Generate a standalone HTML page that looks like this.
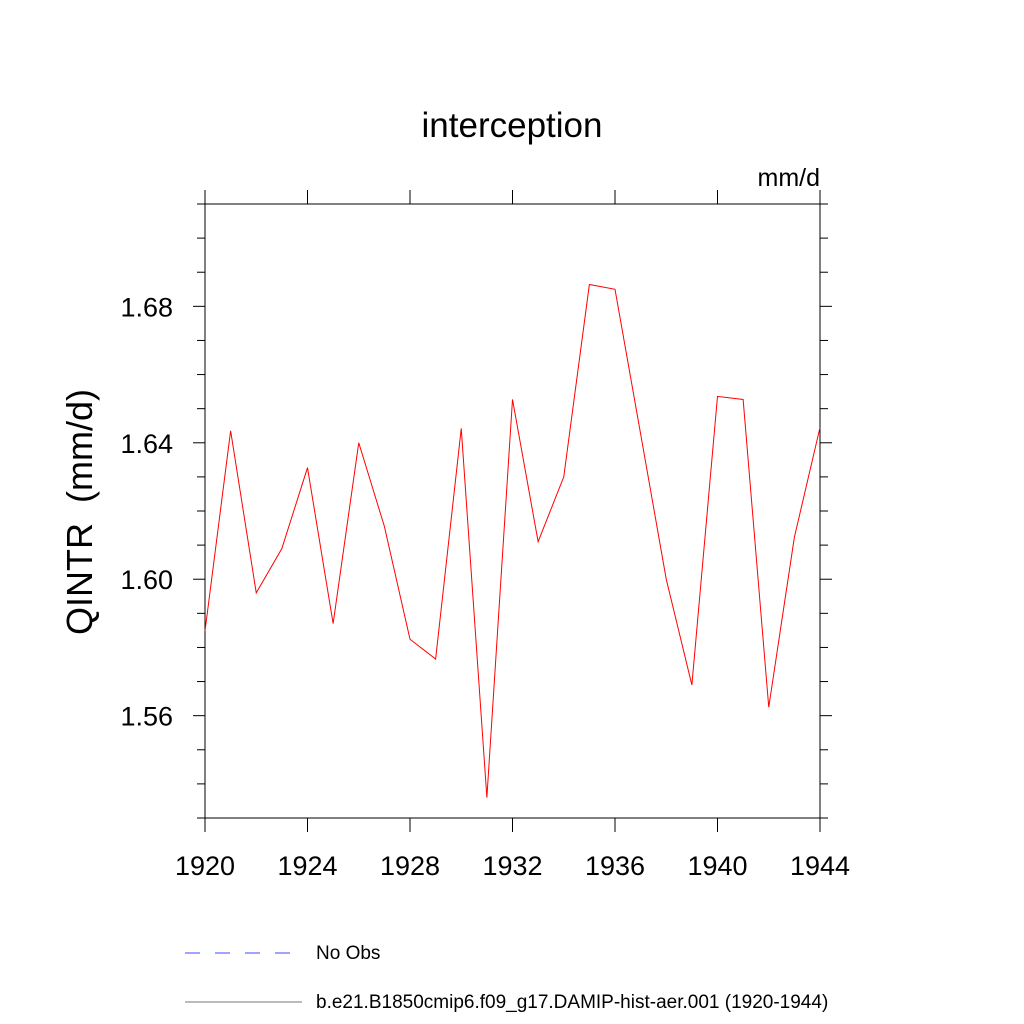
<!DOCTYPE html>
<html><head><meta charset="utf-8"><style>body{margin:0;background:#fff}svg{display:block}text{font-family:"Liberation Sans",sans-serif}</style></head>
<body>
<svg id="c" width="1024" height="1024">
<text x="512" y="137" font-size="35" text-anchor="middle">interception</text>
<text x="820" y="186" font-size="25" text-anchor="end">mm/d</text>
<text transform="translate(92,512) rotate(-90)" font-size="36" text-anchor="middle" xml:space="preserve">QINTR  (mm/d)</text>
<g id="axes"></g>
<polyline id="line" fill="none" stroke="#ff0000" stroke-width="1"/>
<line x1="185" y1="953" x2="295" y2="953" stroke="#4444ff" stroke-width="1" stroke-dasharray="15,15"/>
<text x="316" y="959" font-size="19">No Obs</text>
<line x1="185" y1="1002" x2="302" y2="1002" stroke="#777" stroke-width="1"/>
<text x="316" y="1008" font-size="19">b.e21.B1850cmip6.f09_g17.DAMIP-hist-aer.001 (1920-1944)</text>
</svg>
<script>
const years=[1920,1921,1922,1923,1924,1925,1926,1927,1928,1929,1930,1931,1932,1933,1934,1935,1936,1937,1938,1939,1940,1941,1942,1943,1944];
const values=[1.5848,1.6435,1.596,1.609,1.6327,1.587,1.640,1.6155,1.5824,1.5766,1.6442,1.536,1.6527,1.611,1.630,1.6864,1.685,1.6426,1.600,1.569,1.6536,1.6527,1.5625,1.6123,1.6445];
const xTicks=[1920,1924,1928,1932,1936,1940,1944];
const yTicks=[1.56,1.60,1.64,1.68];
const X0=205,X1=820,Y0=818,Y1=204,xmin=1920,xmax=1944,ymin=1.53,ymax=1.71;
const xs=v=>X0+(v-xmin)/(xmax-xmin)*(X1-X0);
const ys=v=>Y0-(v-ymin)/(ymax-ymin)*(Y0-Y1);
const NS='http://www.w3.org/2000/svg';
const g=document.getElementById('axes');
function ln(x1,y1,x2,y2,name){const l=document.createElementNS(NS,'line');l.setAttribute('x1',x1);l.setAttribute('y1',y1);l.setAttribute('x2',x2);l.setAttribute('y2',y2);l.setAttribute('stroke','#000');l.setAttribute('stroke-width','1');


g.appendChild(l);}
function tx(x,y,s,anchor,name){const t=document.createElementNS(NS,'text');t.setAttribute('x',x);t.setAttribute('y',y);t.setAttribute('font-size','27');t.setAttribute('text-anchor',anchor);t.textContent=s;


g.appendChild(t);}
const r=document.createElementNS(NS,'rect');r.setAttribute('x',X0);r.setAttribute('y',Y1);r.setAttribute('width',X1-X0);r.setAttribute('height',Y0-Y1);r.setAttribute('fill','none');r.setAttribute('stroke','#000');


g.appendChild(r);
xTicks.forEach(v=>{const x=xs(v);ln(x,Y0,x,Y0+14,'x-tick');ln(x,Y1,x,Y1-14,'x-tick-top');tx(x,Y0+57,String(v),'middle','x-tick-label');});
for(let k=0;k<=18;k++){const v=ymin+k*0.01;const y=ys(v);const major=yTicks.some(t=>Math.abs(t-v)<1e-6);const L=major?12:8;ln(X0-L,y,X0,y,'y-tick');ln(X1,y,X1+L,y,'y-tick-right');}
yTicks.forEach(v=>tx(X0-32,ys(v)+10,v.toFixed(2),'end','y-tick-label'));
document.getElementById('line').setAttribute('points',years.map((y,i)=>xs(y)+','+ys(values[i])).join(' '));
</script>
</body></html>
